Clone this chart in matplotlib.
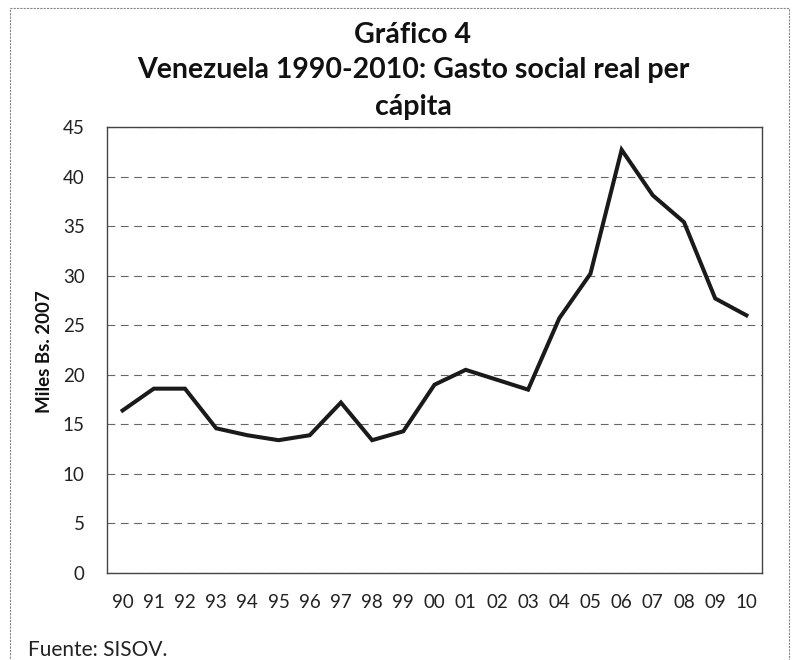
import matplotlib
matplotlib.use("Agg")
import matplotlib.pyplot as plt
from matplotlib.patches import Rectangle

years = ["90", "91", "92", "93", "94", "95", "96", "97", "98", "99", "00",
         "01", "02", "03", "04", "05", "06", "07", "08", "09", "10"]
gasto = [16.4, 18.6, 18.6, 14.6, 13.9, 13.4, 13.9, 17.2, 13.4, 14.3, 19.0,
         20.5, 19.5, 18.5, 25.7, 30.2, 42.7, 38.1, 35.4, 27.7, 26.0]
yticks = [0, 5, 10, 15, 20, 25, 30, 35, 40, 45]

plt.rcParams['font.family'] = ['Lato', 'DejaVu Sans']

W, H = 794, 660
fig = plt.figure(figsize=(W / 100, H / 100), dpi=100)
ax = fig.add_axes([107 / W, 1 - 573 / H, (762 - 107) / W, (573 - 127) / H])

x = list(range(len(years)))
ax.plot(x, gasto, color="#1a1a1a", linewidth=2.9, solid_joinstyle="miter")

ax.set_xlim(-0.5, len(years) - 0.5)
ax.set_ylim(0, 45)
ax.set_xticks(x)
ax.set_xticklabels(years, fontsize=13.5, color="#222222")
ax.set_yticks(yticks)
ax.set_yticklabels([str(v) for v in yticks], fontsize=13.5, color="#222222")
ax.tick_params(length=0)
ax.tick_params(axis='x', pad=15)
ax.tick_params(axis='y', pad=16)
ax.yaxis.grid(True, linestyle=(0, (7, 5)), color="#666666", linewidth=0.8)
ax.set_axisbelow(True)
for s in ax.spines.values():
    s.set_color("#444444")
    s.set_linewidth(1.0)

fig.text(45 / W, 1 - 352 / H, "Miles Bs. 2007", rotation=90, ha="center", va="center",
         fontsize=13.5, fontweight="bold", color="#111111")

title_kw = dict(ha="center", va="baseline", fontsize=20.5, fontweight="bold", color="#111111")
fig.text(413 / W, 1 - 43 / H, "Gráfico 4", **title_kw)
fig.text(413 / W, 1 - 78 / H, "Venezuela 1990-2010: Gasto social real per", **title_kw)
fig.text(413 / W, 1 - 115 / H, "cápita", **title_kw)

fig.text(28 / W, 1 - 656 / H, "Fuente: SISOV.", ha="left", va="baseline",
         fontsize=15, color="#222222")

fig.patches.append(Rectangle((10 / W, -0.02), (789 - 10) / W, 1.02 - 8 / H,
                             transform=fig.transFigure, fill=False,
                             edgecolor="#888888", linewidth=0.8,
                             linestyle=(0, (2, 1))))

fig.savefig("out.png", dpi=100)
